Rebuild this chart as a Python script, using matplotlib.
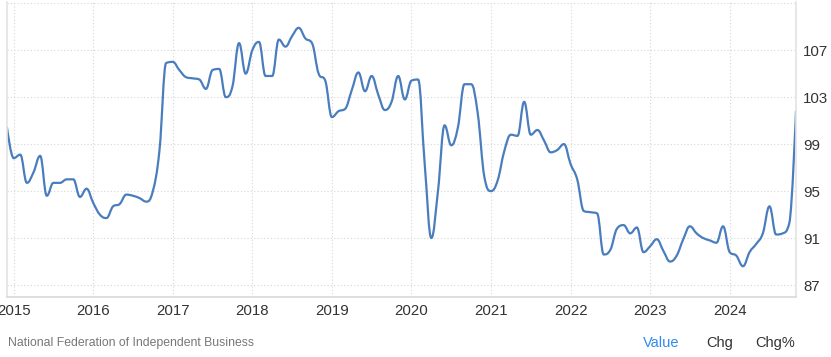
import numpy as np
import matplotlib
matplotlib.use('Agg')
import matplotlib.pyplot as plt
from matplotlib.path import Path
from matplotlib.patches import PathPatch

plt.rcParams['font.family'] = ['Liberation Sans', 'DejaVu Sans']

# NFIB small business optimism index, monthly, Dec 2014 -> Nov 2024
start_year = 2014
start_month = 12
values_2014 = [100.4]
values_2015 = [97.8, 98.1, 95.7, 96.6, 98.0, 94.6, 95.7, 95.7, 96.0, 96.0, 94.5, 95.2]
values_2016 = [94.0, 93.0, 92.7, 93.7, 93.9, 94.7, 94.6, 94.4, 94.1, 95.0, 98.5, 105.9]
values_2017 = [106.0, 105.3, 104.7, 104.6, 104.5, 103.7, 105.3, 105.4, 103.0, 103.9, 107.6, 105.0]
values_2018 = [107.0, 107.7, 104.8, 104.8, 107.9, 107.3, 108.2, 108.9, 108.0, 107.6, 105.0, 104.4]
values_2019 = [101.3, 101.8, 102.0, 103.6, 105.1, 103.5, 104.8, 103.2, 101.9, 102.6, 104.8, 102.8]
values_2020 = [104.4, 104.5, 97.3, 91.0, 95.0, 100.6, 98.9, 100.4, 104.1, 104.1, 101.6, 96.2]
values_2021 = [95.0, 95.9, 98.4, 99.8, 99.7, 102.6, 99.8, 100.2, 99.3, 98.3, 98.5, 99.0]
values_2022 = [97.3, 96.0, 93.3, 93.2, 93.1, 89.6, 90.0, 91.8, 92.1, 91.4, 91.9, 89.8]
values_2023 = [90.3, 90.9, 89.9, 89.0, 89.5, 90.9, 92.0, 91.4, 91.0, 90.8, 90.6, 92.0]
values_2024 = [89.8, 89.5, 88.6, 89.8, 90.5, 91.4, 93.7, 91.3, 91.4, 92.3, 101.8]

values = (values_2014 + values_2015 + values_2016 + values_2017 + values_2018 + values_2019
          + values_2020 + values_2021 + values_2022 + values_2023 + values_2024)
year_ticks = [2015, 2016, 2017, 2018, 2019, 2020, 2021, 2022, 2023, 2024]
y_ticks = [87, 91, 95, 99, 103, 107, 111]
source = 'National Federation of Independent Business'
buttons = ['Value', 'Chg', 'Chg%']

xs = start_year + (np.arange(len(values)) + start_month - 1) / 12.0
ys = np.array(values, dtype=float)


# smooth curve through the points (highcharts-like spline)
def spline_path(xs, ys, smoothing=1.5):
    n = len(xs)
    left = [None] * n
    right = [None] * n
    for i in range(n):
        if i == 0 or i == n - 1:
            left[i] = (xs[i], ys[i])
            right[i] = (xs[i], ys[i])
            continue
        lx = (smoothing * xs[i] + xs[i - 1]) / (smoothing + 1)
        ly = (smoothing * ys[i] + ys[i - 1]) / (smoothing + 1)
        rx = (smoothing * xs[i] + xs[i + 1]) / (smoothing + 1)
        ry = (smoothing * ys[i] + ys[i + 1]) / (smoothing + 1)
        corr = (ry - ly) * (rx - xs[i]) / (rx - lx) + ys[i] - ry
        ly += corr
        ry += corr
        if ly > max(ys[i - 1], ys[i]):
            ly = max(ys[i - 1], ys[i])
            ry = 2 * ys[i] - ly
        elif ly < min(ys[i - 1], ys[i]):
            ly = min(ys[i - 1], ys[i])
            ry = 2 * ys[i] - ly
        if ry > max(ys[i + 1], ys[i]):
            ry = max(ys[i + 1], ys[i])
            ly = 2 * ys[i] - ry
        elif ry < min(ys[i + 1], ys[i]):
            ry = min(ys[i + 1], ys[i])
            ly = 2 * ys[i] - ry
        left[i] = (lx, ly)
        right[i] = (rx, ry)
    verts = [(xs[0], ys[0])]
    codes = [Path.MOVETO]
    for i in range(1, n):
        verts += [right[i - 1], left[i], (xs[i], ys[i])]
        codes += [Path.CURVE4] * 3
    return Path(verts, codes)


fig = plt.figure(figsize=(8.31, 3.57), dpi=100)
ax = fig.add_axes([7 / 831, 60 / 357, 789 / 831, 295 / 357])

ax.add_patch(PathPatch(spline_path(xs, ys), fill=False, edgecolor='#4a7dbd', lw=1.6,
                       capstyle='round', joinstyle='round'))

ax.set_xlim(xs[0], xs[-1])
ax.set_ylim(85.98, 111.1)

ax.set_xticks(year_ticks)
ax.set_xticklabels([str(y) for y in year_ticks])
ax.set_yticks(y_ticks)
ax.set_yticklabels([str(v) if v != 111 else '' for v in y_ticks])
ax.yaxis.tick_right()
ax.tick_params(axis='both', length=0, labelsize=10.8, colors='#333333')
ax.tick_params(axis='y', pad=5)
ax.tick_params(axis='x', pad=5)

ax.grid(True, color='#d6d6d6', linestyle=(0, (1, 2)), linewidth=0.8)
ax.set_axisbelow(True)
ax.spines['top'].set_visible(False)
ax.spines['bottom'].set_color('#d9d9d9')
ax.spines['right'].set_color('#e3e3e3')
ax.spines['left'].set_color('#e3e3e3')
for side in ['bottom', 'right', 'left']:
    ax.spines[side].set_linewidth(1.2)

fig.text(8 / 831, 1 - 343 / 357, source, fontsize=8.8, color='#777777', va='center')
fig.text(643 / 831, 1 - 343 / 357, buttons[0], fontsize=10.5, color='#2f8cf0', va='center')
fig.text(706 / 831, 1 - 343 / 357, buttons[1], fontsize=10.5, color='#333333', va='center')
fig.text(755 / 831, 1 - 343 / 357, buttons[2], fontsize=10.5, color='#333333', va='center')

fig.savefig('out.png', dpi=100)
